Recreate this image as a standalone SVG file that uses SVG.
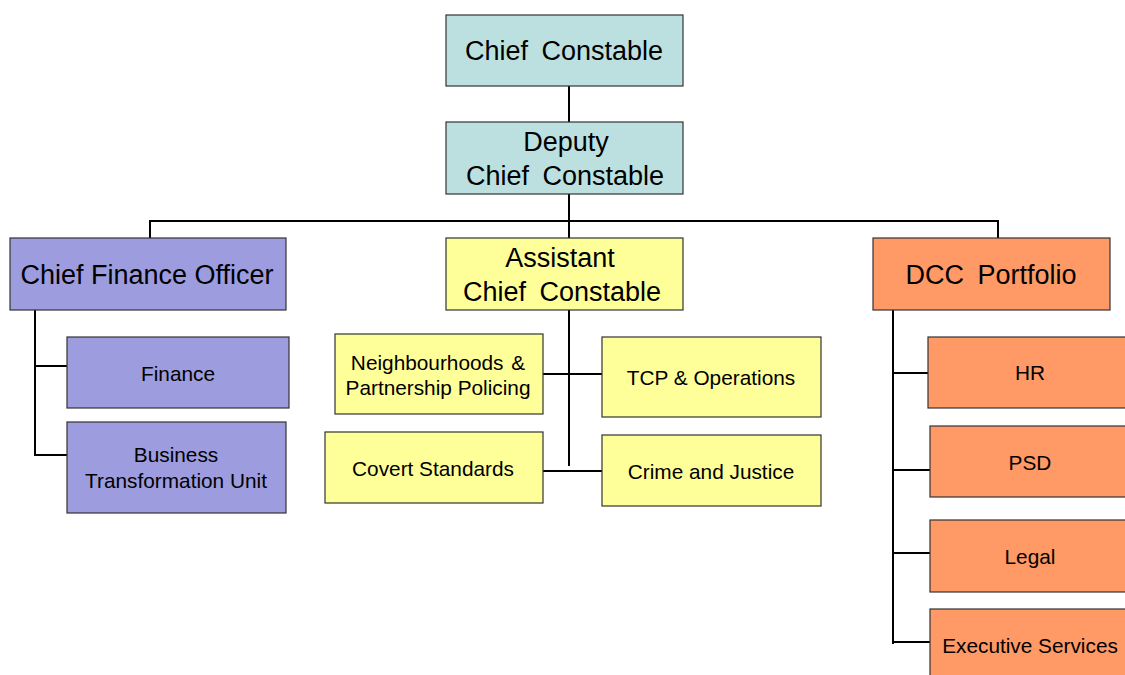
<svg xmlns="http://www.w3.org/2000/svg" width="1125" height="675" viewBox="0 0 1125 675">
<style>
.box{stroke:#333;stroke-width:1.2}
.teal{fill:#BCE0E0}.purple{fill:#9C9CDE}.yellow{fill:#FFFF99}.orange{fill:#FF9966}
text{font-family:"Liberation Sans",Arial,sans-serif;fill:#000;text-anchor:middle}
.big{font-size:27px}
.sm{font-size:20.8px}
.ws{word-spacing:6px}
.conn line{stroke:#000;stroke-width:2}
</style>
<rect width="1125" height="675" fill="#fff"/>
<g class="conn">
<line x1="569" y1="86" x2="569" y2="122"/>
<line x1="569" y1="194" x2="569" y2="238"/>
<line x1="149" y1="221" x2="999" y2="221"/>
<line x1="150" y1="220" x2="150" y2="238"/>
<line x1="998" y1="220" x2="998" y2="238"/>
<line x1="35" y1="310" x2="35" y2="456"/>
<line x1="34" y1="366" x2="67" y2="366"/>
<line x1="34" y1="455" x2="67" y2="455"/>
<line x1="569" y1="310" x2="569" y2="466"/>
<line x1="543" y1="374" x2="602" y2="374"/>
<line x1="543" y1="471" x2="602" y2="471"/>
<line x1="893" y1="310" x2="893" y2="644"/>
<line x1="892" y1="373" x2="929" y2="373"/>
<line x1="892" y1="470" x2="930" y2="470"/>
<line x1="892" y1="553" x2="930" y2="553"/>
<line x1="892" y1="642" x2="930" y2="642"/>
</g>
<g id="chief-constable"><rect class="box teal" x="446" y="15" width="237" height="71"/><text class="big ws" x="564" y="60">Chief Constable</text></g>
<g id="deputy-chief-constable"><rect class="box teal" x="446" y="122" width="237" height="72"/><text class="big" x="566" y="151">Deputy</text><text class="big ws" x="565" y="185">Chief Constable</text></g>
<g id="chief-finance-officer"><rect class="box purple" x="10" y="238" width="276" height="72"/><text class="big" x="147" y="284">Chief Finance Officer</text></g>
<g id="assistant-chief-constable"><rect class="box yellow" x="446" y="238" width="237" height="72"/><text class="big" x="560" y="267">Assistant</text><text class="big ws" x="562" y="301">Chief Constable</text></g>
<g id="dcc-portfolio"><rect class="box orange" x="873" y="238" width="237" height="72"/><text class="big ws" x="991" y="284">DCC Portfolio</text></g>
<g id="finance"><rect class="box purple" x="67" y="337" width="222" height="71"/><text class="sm" x="178" y="381">Finance</text></g>
<g id="business-transformation-unit"><rect class="box purple" x="67" y="422" width="219" height="91"/><text class="sm" x="176" y="462">Business</text><text class="sm" x="176" y="488">Transformation Unit</text></g>
<g id="neighbourhoods"><rect class="box yellow" x="335" y="334" width="208" height="80"/><text class="sm" x="438" y="370" style="word-spacing:2px">Neighbourhoods &amp;</text><text class="sm" x="438" y="395">Partnership Policing</text></g>
<g id="tcp-operations"><rect class="box yellow" x="602" y="337" width="219" height="80"/><text class="sm" x="711" y="385">TCP &amp; Operations</text></g>
<g id="covert-standards"><rect class="box yellow" x="325" y="432" width="218" height="71"/><text class="sm" x="433" y="476">Covert Standards</text></g>
<g id="crime-and-justice"><rect class="box yellow" x="602" y="435" width="219" height="71"/><text class="sm" x="711" y="479">Crime and Justice</text></g>
<g id="hr"><rect class="box orange" x="928" y="337" width="202" height="71"/><text class="sm" x="1030" y="380">HR</text></g>
<g id="psd"><rect class="box orange" x="930" y="426" width="200" height="71"/><text class="sm" x="1030" y="470">PSD</text></g>
<g id="legal"><rect class="box orange" x="930" y="520" width="200" height="72"/><text class="sm" x="1030" y="564">Legal</text></g>
<g id="executive-services"><rect class="box orange" x="930" y="609" width="200" height="80"/><text class="sm" x="1030" y="653">Executive Services</text></g>
</svg>
